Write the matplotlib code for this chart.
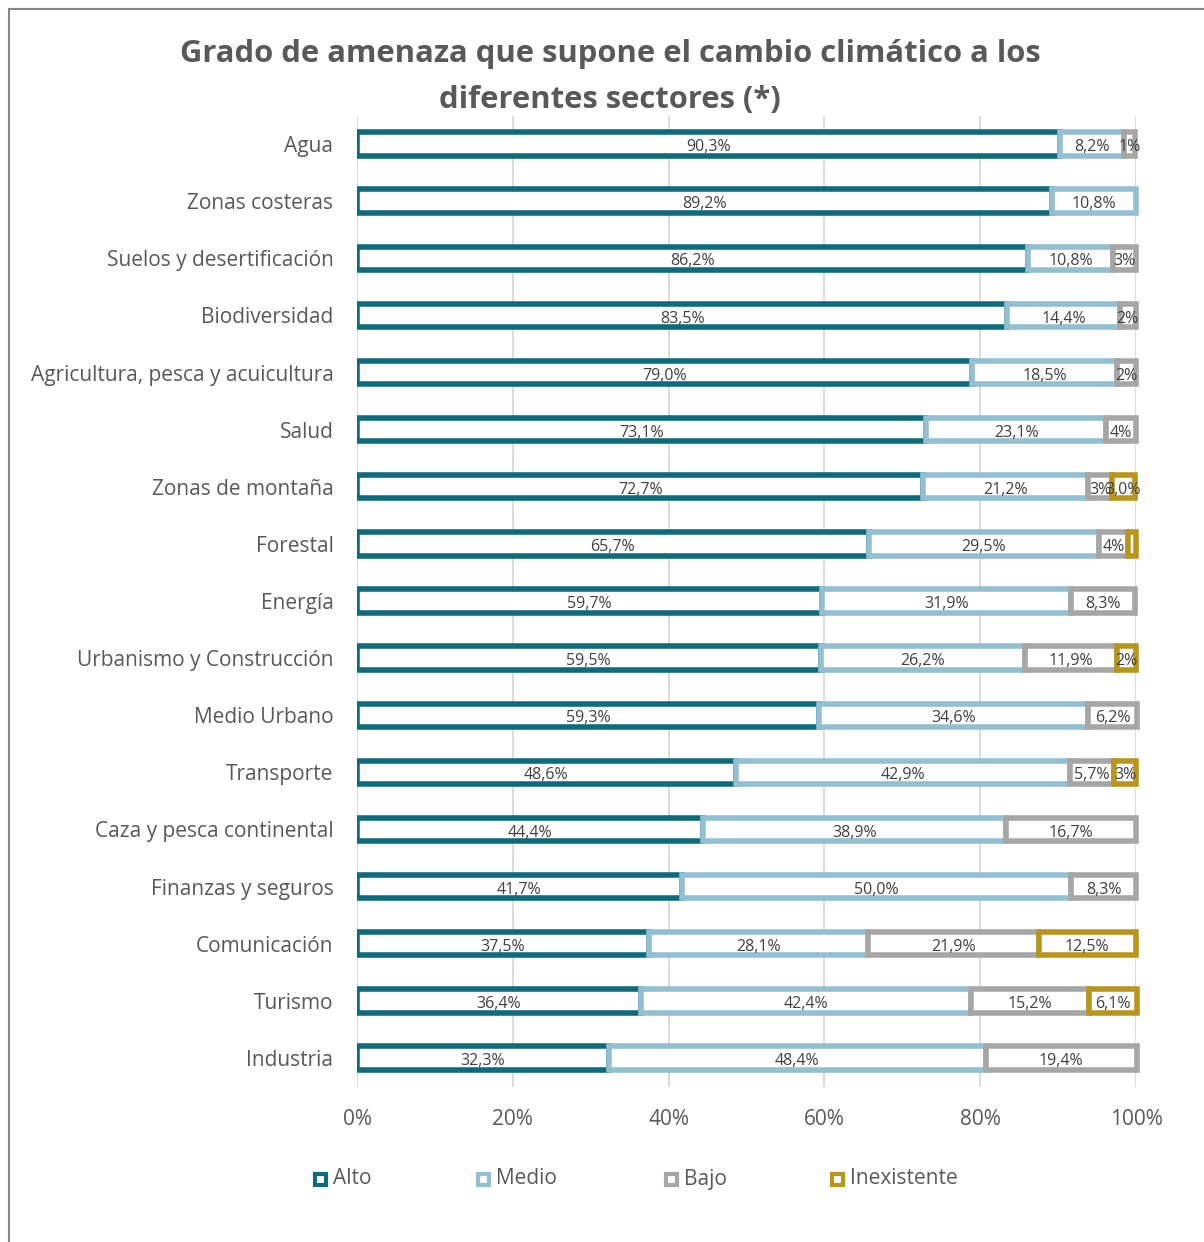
import matplotlib.pyplot as plt
from matplotlib.patches import Rectangle
from matplotlib.lines import Line2D
from matplotlib.transforms import Bbox, TransformedBbox

plt.rcParams['font.family'] = ['Open Sans', 'DejaVu Sans']

W, H = 1204, 1242

sectores = ["Agua", "Zonas costeras", "Suelos y desertificación", "Biodiversidad",
            "Agricultura, pesca y acuicultura", "Salud", "Zonas de montaña", "Forestal",
            "Energía", "Urbanismo y Construcción", "Medio Urbano", "Transporte",
            "Caza y pesca continental", "Finanzas y seguros", "Comunicación", "Turismo",
            "Industria"]
alto = [90.3, 89.2, 86.2, 83.5, 79.0, 73.1, 72.7, 65.7, 59.7, 59.5, 59.3, 48.6, 44.4, 41.7, 37.5, 36.4, 32.3]
medio = [8.2, 10.8, 10.8, 14.4, 18.5, 23.1, 21.2, 29.5, 31.9, 26.2, 34.6, 42.9, 38.9, 50.0, 28.1, 42.4, 48.4]
bajo = [1.4, 0, 3.0, 2.1, 2.5, 3.8, 3.0, 3.8, 8.3, 11.9, 6.2, 5.7, 16.7, 8.3, 21.9, 15.2, 19.4]
inexistente = [0, 0, 0, 0, 0, 0, 3.0, 1.0, 0, 2.4, 0, 2.8, 0, 0, 12.5, 6.1, 0]

nombres = ["Alto", "Medio", "Bajo", "Inexistente"]
colores = ["#0d6b7b", "#92bfd2", "#a6a6a6", "#b8961c"]
# etiquetas que Excel muestra con un decimal aunque el valor sea pequeño
forzar_decimal = {(3, 6)}


def etiqueta(v, s, i):
    if v < 1.2:
        return ""
    if v >= 5 or (s, i) in forzar_decimal:
        return f"{v:.1f}%".replace(".", ",")
    return f"{round(v):.0f}%"


fig = plt.figure(figsize=(W / 100, H / 100), dpi=100)
ax = fig.add_axes([357 / W, 1 - 1086.5 / H, 779 / W, 971 / H])

clip = TransformedBbox(Bbox([[-0.0005, -0.05], [1.02, 1.05]]), ax.transAxes)
y = list(range(len(sectores)))
left = [0] * len(sectores)
for s, (vals, col) in enumerate(zip([alto, medio, bajo, inexistente], colores)):
    bars = ax.barh(y, vals, left=left, height=0.41, color="white",
                   edgecolor=col, linewidth=4, zorder=3 + s)
    for i, (b, v) in enumerate(zip(bars, vals)):
        b.set_clip_path(None)
        b.set_clip_box(clip)
        if v == 0:
            b.set_visible(False)
            continue
        txt = etiqueta(v, s, i)
        if txt:
            ax.text(left[i] + v / 2, i + 0.02, txt, ha="center", va="center_baseline",
                    fontsize=11.5, color="#404040", zorder=10)
    left = [l + v for l, v in zip(left, vals)]

ax.set_xlim(0, 100)
ax.set_ylim(len(sectores) - 0.5, -0.5)
ax.set_yticks(y)
ax.set_yticklabels(sectores, fontsize=15, color="#595959")
ax.set_xticks(range(0, 101, 20))
ax.set_xticklabels([f"{t}%" for t in range(0, 101, 20)], fontsize=15, color="#595959")
ax.tick_params(axis="y", length=0, pad=17)
ax.tick_params(axis="x", length=0, pad=16)
ax.grid(axis="x", color="#d9d9d9", linewidth=1.3)
ax.set_axisbelow(True)
for sp in ax.spines.values():
    sp.set_visible(False)

fig.text(610 / W, 1 - 54 / H, "Grado de amenaza que supone el cambio climático a los",
         ha="center", va="center", fontsize=22.3, fontweight="bold", color="#595959")
fig.text(610 / W, 1 - 100 / H, "diferentes sectores (*)",
         ha="center", va="center", fontsize=22.3, fontweight="bold", color="#595959")

# leyenda
pos_leyenda = [313, 476, 664, 830]
for x, nombre, col in zip(pos_leyenda, nombres, colores):
    fig.add_artist(Rectangle(((x + 2) / W, 1 - 1185 / H), 11 / W, 11 / H,
                             transform=fig.transFigure, facecolor="white",
                             edgecolor=col, linewidth=3))
    fig.text((x + 20) / W, 1 - 1179 / H, nombre, ha="left", va="center",
             fontsize=15, color="#595959")

# marco del gráfico
fig.add_artist(Line2D([8.5 / W, 8.5 / W], [0, 1 - 9 / H], transform=fig.transFigure,
                      color="#868686", linewidth=1.5))
fig.add_artist(Line2D([8.5 / W, 1], [1 - 9 / H, 1 - 9 / H], transform=fig.transFigure,
                      color="#868686", linewidth=1.5))

fig.savefig("out.png", dpi=100, facecolor="white")
